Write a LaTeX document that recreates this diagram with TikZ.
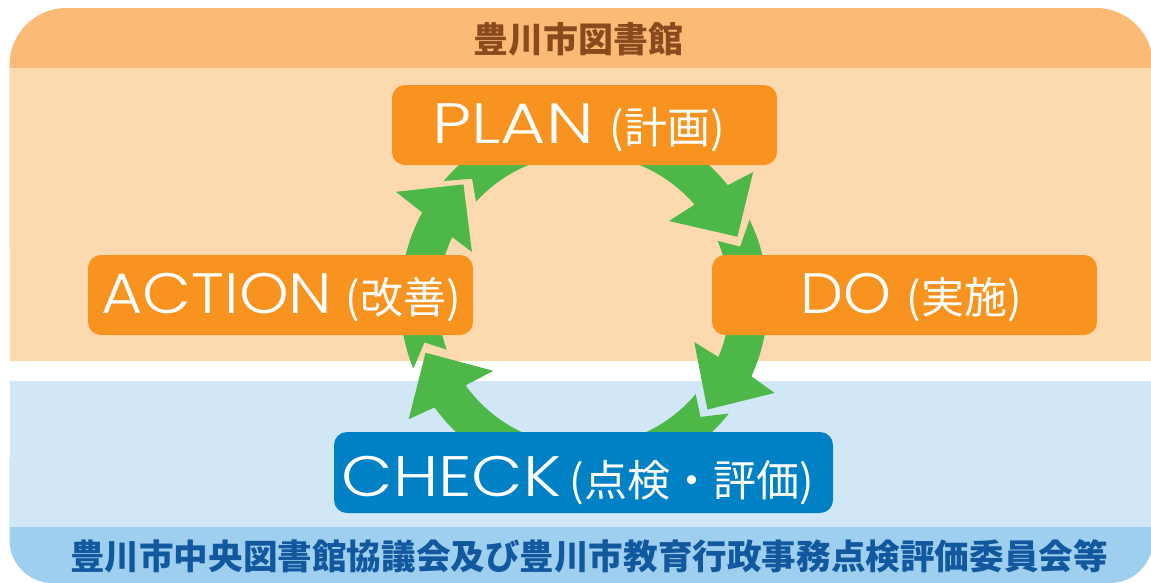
\documentclass[tikz,border=0pt]{standalone}
\usepackage{graphicx}
\usepackage{fontspec}
\newfontfamily\jp{Noto Sans CJK JP}
\newfontfamily\lat{Poppins Light}
\definecolor{topband}{HTML}{FBBA75}
\definecolor{lorange}{HTML}{FDD9B0}
\definecolor{lblue}{HTML}{D2E7F6}
\definecolor{botband}{HTML}{9FCFEE}
\definecolor{boxorange}{HTML}{F7931E}
\definecolor{boxblue}{HTML}{0081C6}
\definecolor{cycgreen}{HTML}{4DB848}
\definecolor{titlebrown}{HTML}{8B4A1E}
\definecolor{titleblue}{HTML}{12589F}
\begin{document}
\begin{tikzpicture}[x=1pt,y=-1pt,
  obox/.style={fill=boxorange, rounded corners=13pt, inner sep=0pt, minimum width=385pt, minimum height=80pt},
  bbox/.style={fill=boxblue, rounded corners=13pt, inner sep=0pt, minimum width=499pt, minimum height=81pt},
  lattxt/.style={text=white, inner sep=0pt, anchor=base, font=\lat\fontsize{57}{60}\selectfont},
  jptxt/.style={text=white, inner sep=0pt, anchor=base, font=\jp\fontsize{43}{46}\selectfont},
  cyc/.style={fill=cycgreen}]
\useasboundingbox (0,0) rectangle (1151,582);
% background bands
\fill[topband, rounded corners=57pt] (9.5,8) rectangle (1153,300);
\fill[botband, rounded corners=43pt] (9.5,420) rectangle (1153,583);
\fill[lorange] (9.5,68) rectangle (1153,360.5);
\fill[lblue] (9.5,381) rectangle (1153,527);
% titles
\node[text=titlebrown, inner sep=0pt, font=\jp\bfseries\fontsize{35}{38}\selectfont] (title) at (578.5,39) {豊川市図書館};
\node[text=titleblue, inner sep=0pt, font=\jp\bfseries\fontsize{34.6}{40}\selectfont] (footer) at (589,556) {豊川市中央図書館協議会及び豊川市教育行政事務点検評価委員会等};
% cycle arrows
\begin{scope}[shift={(584,300)}, yscale=-1]
\fill[cyc] (201.9:184) -- (194.9:165) -- (199.9:146) arc[start angle=199.9, end angle=154.5, radius=146] -- (156.8:122) -- (136.2:167) -- (150.1:217) -- (151.6:184) arc[start angle=151.6, end angle=201.9, radius=184] -- cycle;
\fill[cyc] (139.7:184) -- (132.7:165) -- (137.7:146) arc[start angle=137.7, end angle=40.8, radius=146] -- (42.9:116) -- (22.4:166) -- (37.1:212) -- (38.6:184) arc[start angle=38.6, end angle=139.7, radius=184] -- cycle;
\fill[cyc] (25.9:184) -- (18.9:165) -- (23.9:146) arc[start angle=23.9, end angle=-23, radius=146] -- (-20.9:118) -- (-41.6:165) -- (-26:212) -- (-24.5:184) arc[start angle=-24.5, end angle=25.9, radius=184] -- cycle;
\fill[cyc] (-38.1:184) -- (-45.1:165) -- (-40.1:146) arc[start angle=-40.1, end angle=-144.2, radius=146] -- (-142:115) -- (-161.6:167) -- (-145.8:212) -- (-144.3:184) arc[start angle=-144.3, end angle=-38.1, radius=184] -- cycle;
\end{scope}
% boxes
\node[obox] (plan) at (584.5,125) {};
\node[obox] (action) at (280.5,295) {};
\node[obox] (do) at (904.5,295) {};
\node[bbox] (check) at (583.5,472.5) {};
% box texts
\node[lattxt] (planL) at (513,143) {\scalebox{1.22}[1]{PLAN}};
\node[jptxt] (planJ) at (667,143) {(計画)};
\node[lattxt] (actionL) at (217,313) {\scalebox{1.11}[1]{ACTION}};
\node[jptxt] (actionJ) at (403,313) {(改善)};
\node[lattxt] (doL) at (846,313) {\scalebox{1.07}[1]{DO}};
\node[jptxt] (doJ) at (964,313) {(実施)};
\node[lattxt] (checkL) at (451.5,496) {\scalebox{1.17}[1]{CHECK}};
\node[jptxt] (checkJ) at (692,496) {(点検・評価)};
\end{tikzpicture}
\end{document}
